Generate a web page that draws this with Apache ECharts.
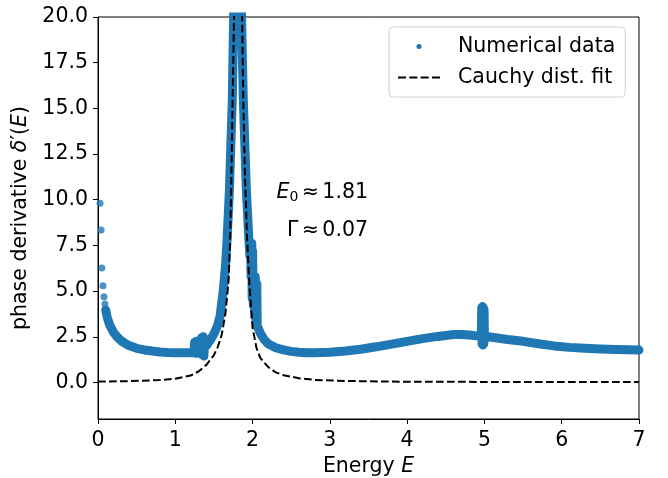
<!DOCTYPE html>
<html>
<head>
<meta charset="utf-8">
<script src="https://cdn.jsdelivr.net/npm/echarts@6/dist/echarts.min.js"></script>
<style>
  html, body { margin: 0; padding: 0; background: #fff; }
  #chart { width: 668px; height: 478px; }
</style>
</head>
<body>
<div id="chart"></div>
<script>
// numerical data (band centre)
const numE = [0.10, 0.12, 0.15, 0.20, 0.25, 0.30, 0.40, 0.50, 0.60, 0.70, 0.80, 0.90, 1.00, 1.10, 1.20,
  1.24, 1.25, 1.26, 1.27, 1.28, 1.29, 1.33, 1.34, 1.35, 1.36, 1.37, 1.38, 1.40, 1.45, 1.50, 1.55, 1.58,
  1.62, 1.65, 1.67, 1.70, 1.737, 1.755, 1.77, 1.81, 1.845, 1.857, 1.88, 1.92, 1.95, 1.966, 1.975, 1.98,
  1.99, 1.995, 2.00, 2.01, 2.02, 2.03, 2.035, 2.045, 2.055, 2.06, 2.08, 2.10, 2.15, 2.20, 2.30, 2.40,
  2.50, 2.60, 2.70, 2.80, 3.00, 3.20, 3.40, 3.60, 3.80, 4.00, 4.20, 4.40, 4.60, 4.70, 4.80, 4.90, 4.96,
  4.965, 4.97, 4.975, 4.98, 4.985, 4.99, 4.995, 5.00, 5.01, 5.05, 5.10, 5.30, 5.50, 5.70, 5.90, 6.10,
  6.30, 6.50, 6.70, 7.00]
const numVal = [3.96, 3.55, 3.15, 2.75, 2.48, 2.28, 2.02, 1.87, 1.78, 1.72, 1.67, 1.64, 1.62, 1.62, 1.63,
  1.64, 2.2, 1.6, 2.25, 1.6, 1.7, 1.75, 2.45, 1.5, 2.5, 1.45, 2.3, 2.0, 2.3, 2.65, 3.15, 3.65,
  5.0, 6.4, 7.8, 10.5, 15.4, 20, 24, 40, 24, 20, 15.5, 10.5, 8.0, 6.9, 7.6, 5.8,
  7.6, 4.6, 7.2, 4.2, 5.4, 3.6, 5.8, 3.3, 5.4, 3.1, 2.9, 2.7, 2.35, 2.12, 1.9, 1.78,
  1.7, 1.65, 1.63, 1.62, 1.65, 1.72, 1.82, 1.95, 2.1, 2.25, 2.4, 2.52, 2.62, 2.63, 2.6, 2.55, 2.55,
  4.1, 2.1, 4.15, 2.05, 4.1, 2.1, 4.0, 2.3, 2.6, 2.5, 2.47, 2.35, 2.25, 2.12, 2.0, 1.92,
  1.87, 1.83, 1.8, 1.77]
// isolated points close to E = 0
const dotE = [0.026, 0.04, 0.05, 0.065, 0.078, 0.09]
const dotVal = [9.81, 8.34, 6.27, 5.29, 4.69, 4.29]
// Cauchy fit curve
const fitE = [0, 0.4, 0.8, 1.0, 1.2, 1.3, 1.4, 1.5, 1.55, 1.6, 1.65, 1.69, 1.71, 1.725, 1.74, 1.76, 1.77,
  1.79, 1.81, 1.83, 1.855, 1.865, 1.88, 1.9, 1.93, 1.96, 2.0, 2.05, 2.1, 2.2, 2.3, 2.4, 2.6, 2.8, 3.2,
  4.0, 5.0, 7.0]
const fitVal = [0.05, 0.07, 0.13, 0.2, 0.38, 0.6, 0.95, 1.5, 1.95, 2.6, 3.8, 5.6, 7.8, 11, 15, 20, 23,
  35, 45, 35, 23, 20, 15.5, 11.5, 7.8, 5.3, 3.0, 1.9, 1.35, 0.85, 0.55, 0.4, 0.23, 0.14, 0.08,
  0.04, 0.03, 0.02]
const xTicks = [0, 1, 2, 3, 4, 5, 6, 7]
const yTicks = [0, 2.5, 5, 7.5, 10, 12.5, 15, 17.5, 20]

const BLUE = '#1f77b4'
const FONT = 'DejaVu Sans'
const FS = 20.5

const chart = echarts.init(document.getElementById('chart'))
const option = {
  animation: false,
  textStyle: { fontFamily: FONT },
  grid: {
    left: 98, right: 29, top: 17, bottom: 59,
    outerBoundsMode: 'none',
    containLabel: false,
    show: true, borderColor: '#000', borderWidth: 1
  },
  legend: {
    orient: 'vertical',
    left: 389, top: 27,
    padding: [9, 10, 9, 9],
    itemWidth: 42, itemHeight: 5, itemGap: 10,
    borderColor: '#d0d0d0', borderWidth: 1, borderRadius: 4,
    backgroundColor: 'rgba(255,255,255,0.8)',
    textStyle: { fontSize: FS, color: '#000', padding: [0, 0, 0, 13] },
    data: [
      { name: 'Numerical data', icon: 'circle', itemStyle: { color: BLUE } },
      {
        name: 'Cauchy dist. fit',
        icon: 'path://M0,0h8v2h-8z M11.3,0h8v2h-8z M22.6,0h8v2h-8z M33.9,0h8v2h-8z',
        itemStyle: { color: '#000' }
      }
    ]
  },
  xAxis: {
    type: 'value', min: 0, max: 7, interval: 1,
    name: '{a|Energy }{i|E}',
    nameLocation: 'middle', nameGap: 36,
    nameTextStyle: {
      rich: {
        a: { fontSize: FS, fontFamily: FONT, color: '#000' },
        i: { fontSize: FS, fontFamily: FONT, fontStyle: 'italic', color: '#000' }
      }
    },
    axisLine: { onZero: false, lineStyle: { color: '#000', width: 1 } },
    axisTick: { length: 5, lineStyle: { color: '#000' }, customValues: xTicks },
    axisLabel: { fontSize: FS, color: '#000', margin: 11, customValues: xTicks },
    splitLine: { show: false }
  },
  yAxis: {
    type: 'value', min: -2, max: 20,
    name: '{a|phase derivative }{i|δ}{a|′(}{i|E}{a|)}',
    nameLocation: 'middle', nameGap: 57,
    nameTextStyle: {
      rich: {
        a: { fontSize: FS, fontFamily: FONT, color: '#000' },
        i: { fontSize: FS, fontFamily: FONT, fontStyle: 'italic', color: '#000' }
      }
    },
    axisLine: { show: true, onZero: false, lineStyle: { color: '#000', width: 1 } },
    axisTick: { show: true, length: 5, lineStyle: { color: '#000' }, customValues: yTicks },
    axisLabel: {
      fontSize: FS, color: '#000', margin: 10, customValues: yTicks,
      formatter: (v) => v.toFixed(1)
    },
    splitLine: { show: false }
  },
  series: [
    {
      name: 'Numerical data',
      type: 'line',
      data: numE.map((e, i) => [e, numVal[i]]),
      showSymbol: false,
      clip: true,
      lineStyle: { color: BLUE, width: 9, cap: 'round', join: 'round' },
      itemStyle: { color: BLUE },
      z: 2
    },
    {
      name: 'Numerical data',
      type: 'scatter',
      data: dotE.map((e, i) => [e, dotVal[i]]),
      symbolSize: 7,
      itemStyle: { color: BLUE },
      z: 2
    },
    {
      name: 'Cauchy dist. fit',
      type: 'line',
      data: fitE.map((e, i) => [e, fitVal[i]]),
      showSymbol: false,
      clip: true,
      lineStyle: { color: '#000', width: 2, type: [7.7, 3.3] },
      itemStyle: { color: '#000' },
      z: 3
    }
  ],
  graphic: [
    {
      type: 'text', x: 368, y: 193,
      style: {
        text: '{i|E}{s|0}{n|\u2006≈\u20061.81}',
        align: 'right', verticalAlign: 'middle',
        rich: {
          i: { fontSize: FS, fontFamily: FONT, fontStyle: 'italic', fill: '#000' },
          s: { fontSize: 14, fontFamily: FONT, fill: '#000', padding: [9, 0, 0, 0] },
          n: { fontSize: FS, fontFamily: FONT, fill: '#000' }
        }
      }
    },
    {
      type: 'text', x: 368, y: 231,
      style: {
        text: 'Γ\u2006≈\u20060.07',
        align: 'right', verticalAlign: 'middle',
        fontSize: FS, fontFamily: FONT, fill: '#000'
      }
    }
  ]
}
chart.setOption(option)
</script>
</body>
</html>
